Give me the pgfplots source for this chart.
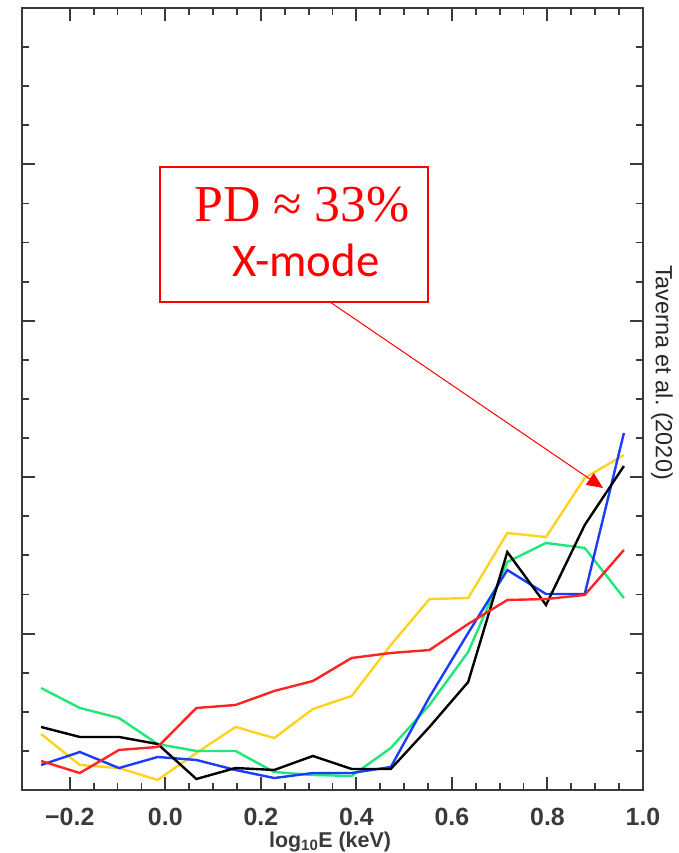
\documentclass[border=0pt]{standalone}
\usepackage{fontspec}
\setmainfont{Liberation Sans}
\newfontfamily\carlito{Carlito}
\newfontfamily\lserif{Liberation Serif}
\usepackage{pgfplots}
\pgfplotsset{compat=1.18}
\usetikzlibrary{arrows.meta}
\definecolor{axgray}{HTML}{3A3A3A}
\definecolor{cyel}{HTML}{FFD21F}
\definecolor{cgrn}{HTML}{1EE87A}
\definecolor{cblu}{HTML}{1A3CFF}
\definecolor{cred}{HTML}{FF2424}
\begin{document}
\begin{tikzpicture}
\useasboundingbox (0,0) rectangle (679bp,853bp);
\begin{axis}[at={(22bp,63bp)}, anchor=south west, scale only axis,
 width=621bp, height=782bp,
 xmin=-0.3, xmax=1.0, ymin=0, ymax=100,
 xtick={-0.2,0,0.2,0.4,0.6,0.8,1.0},
 xticklabels={−0.2,0.0,0.2,0.4,0.6,0.8,1.0},
 minor x tick num=3,
 ytick={0,20,...,100}, yticklabels={}, minor y tick num=3,
 tick align=inside, major tick length=13bp, minor tick length=7bp,
 axis line style={axgray, line width=2.2bp},
 major tick style={axgray, line width=2bp},
 minor tick style={axgray, line width=1.8bp},
 xticklabel style={font=\fontsize{25}{25}\selectfont\bfseries, text=axgray, anchor=center, yshift=-27bp},
 xlabel={log\textsubscript{10}E (keV)},
 xlabel style={font=\fontsize{21.5}{21.5}\selectfont\bfseries, text=axgray, anchor=center, at={(axis description cs:0.496,-0.0665)}},
 every axis plot/.append style={line width=2.4bp, mark=none},
]
\addplot[cyel] coordinates {(-0.260,7.16) (-0.179,3.20) (-0.097,2.81) (-0.016,1.28) (0.065,4.73) (0.147,8.06) (0.228,6.65) (0.309,10.36) (0.390,12.02) (0.472,18.54) (0.553,24.42) (0.634,24.55) (0.716,32.86) (0.797,32.35) (0.878,39.90) (0.960,42.84)};
\addplot[cgrn] coordinates {(-0.260,13.04) (-0.179,10.49) (-0.097,9.21) (-0.016,5.88) (0.065,4.99) (0.147,4.99) (0.228,2.30) (0.309,1.92) (0.390,1.79) (0.472,5.37) (0.553,10.87) (0.634,17.65) (0.716,29.16) (0.797,31.59) (0.878,30.95) (0.960,24.55)};
\addplot[cblu] coordinates {(-0.260,3.20) (-0.179,4.86) (-0.097,2.81) (-0.016,4.22) (0.065,3.84) (0.147,2.56) (0.228,1.53) (0.309,2.17) (0.390,2.17) (0.472,2.94) (0.553,11.89) (0.634,20.08) (0.716,28.13) (0.797,25.06) (0.878,25.06) (0.960,45.65)};
\addplot[black] coordinates {(-0.260,8.06) (-0.179,6.78) (-0.097,6.78) (-0.016,5.88) (0.065,1.41) (0.147,2.81) (0.228,2.56) (0.309,4.35) (0.390,2.69) (0.472,2.69) (0.553,8.06) (0.634,13.81) (0.716,30.43) (0.797,23.66) (0.878,33.89) (0.960,41.43)};
\addplot[cred] coordinates {(-0.260,3.71) (-0.179,2.17) (-0.097,5.12) (-0.016,5.50) (0.065,10.49) (0.147,10.87) (0.228,12.66) (0.309,13.94) (0.390,16.88) (0.472,17.52) (0.553,17.90) (0.634,21.23) (0.716,24.30) (0.797,24.42) (0.878,24.94) (0.960,30.69)};
\end{axis}
\draw[red, line width=1.3bp] (160bp,551bp) rectangle (428bp,686bp);
\node[red, font=\lserif\fontsize{52}{52}\selectfont, anchor=base, inner sep=0pt] at (302bp,631bp) {PD ≈ 33\%};
\node[red, font=\carlito\fontsize{47}{47}\selectfont, anchor=base, inner sep=0pt] at (306bp,576bp) {X-mode};
\draw[red, line width=1bp, -{Triangle[length=16bp,width=14bp]}] (330bp,551bp) -- (603bp,365bp);
\node[rotate=-90, font=\fontsize{23.5}{23.5}\selectfont, text=black!85] at (662bp,480.5bp) {Taverna et al.\ (2020)};
\end{tikzpicture}
\end{document}
